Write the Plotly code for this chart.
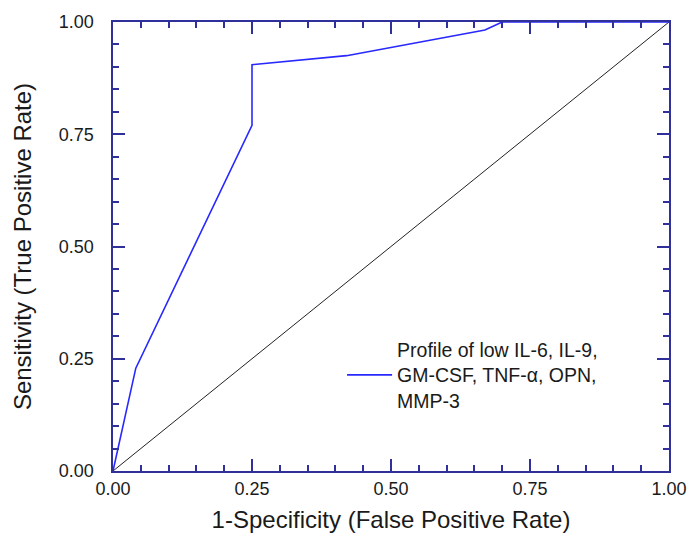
import plotly.graph_objects as go

fpr = [0.0, 0.041, 0.25, 0.25, 0.42, 0.669, 0.70, 1.0]
tpr = [0.0, 0.229, 0.77, 0.905, 0.925, 0.982, 1.0, 1.0]
diag_x = [0.0, 1.0]
diag_y = [0.0, 1.0]
tick_vals = [0.0, 0.25, 0.5, 0.75, 1.0]
tick_text = ["0.00", "0.25", "0.50", "0.75", "1.00"]
legend_name = "Profile of low IL-6, IL-9,<br>GM-CSF, TNF-α, OPN,<br>MMP-3"

axis_col = "#30309a"
txt_col = "#1a1a1a"
font = "Liberation Sans, Arial, sans-serif"
y_pad = "\u00a0\u00a0\u2009"

fig = go.Figure()
fig.add_trace(go.Scatter(x=diag_x, y=diag_y, mode="lines",
                         line=dict(color="#222222", width=1), showlegend=False,
                         hoverinfo="skip"))
fig.add_trace(go.Scatter(x=fpr, y=tpr, mode="lines", name=legend_name,
                         line=dict(color="#2828ff", width=1.6)))

def axis_style(labels):
    return dict(range=[0, 1], tickvals=tick_vals, ticktext=labels,
                ticks="inside", ticklen=12, tickwidth=2, tickcolor=axis_col,
                showline=True, linecolor=axis_col, linewidth=2, mirror="ticks",
                showgrid=False, zeroline=False, automargin=False,
                tickfont=dict(family=font, size=18, color=txt_col),
                minor=dict(dtick=0.05, ticks="inside", ticklen=6, tickwidth=2,
                           tickcolor=axis_col, showgrid=False))

fig.update_xaxes(**axis_style(tick_text),
                 title=dict(text="1-Specificity (False Positive Rate)",
                            font=dict(family=font, size=24, color=txt_col),
                            standoff=14))
fig.update_yaxes(**axis_style([t + y_pad for t in tick_text]),
                 title=dict(text="Sensitivity (True Positive Rate)",
                            font=dict(family=font, size=24, color=txt_col),
                            standoff=20))

fig.update_layout(
    width=689, height=538,
    margin=dict(l=113, r=20, t=22, b=67),
    paper_bgcolor="white", plot_bgcolor="white",
    font=dict(family=font, size=15, color=txt_col),
    legend=dict(x=0.412, y=0.213, xanchor="left", yanchor="middle",
                bgcolor="rgba(0,0,0,0)", font=dict(family=font, size=19.5, color=txt_col),
                itemwidth=45),
)

fig.write_html("out.html")
